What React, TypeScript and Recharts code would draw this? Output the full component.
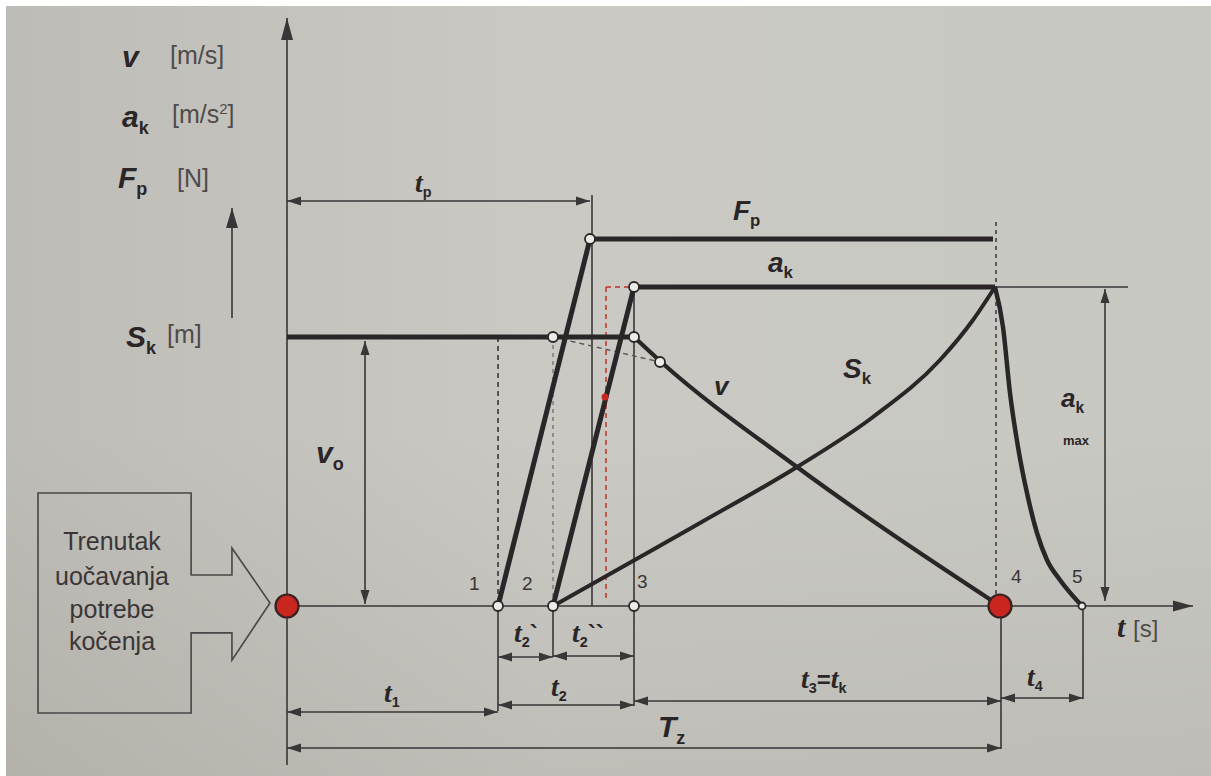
import React from 'react';
import {
  ComposedChart,
  Line,
  Scatter,
  XAxis,
  YAxis,
  ReferenceLine,
  ReferenceDot,
  ReferenceArea,
} from 'recharts';

// ---------- data (time in chart units, magnitudes in chart units) ----------
const fpCurve = [
  { x: 4.22, y: 0 },
  { x: 6.06, y: 7.34 },
  { x: 14.12, y: 7.34 },
];
const akPlateau = [
  { x: 5.32, y: 0 },
  { x: 6.94, y: 6.38 },
  { x: 14.16, y: 6.38 },
];
const akDecay = [
  { x: 14.16, y: 6.38 },
  { x: 14.32, y: 5.58 },
  { x: 14.46, y: 4.26 },
  { x: 14.62, y: 3.18 },
  { x: 14.8, y: 2.26 },
  { x: 15.0, y: 1.46 },
  { x: 15.2, y: 0.92 },
  { x: 15.46, y: 0.52 },
  { x: 15.9, y: 0 },
];
const vConst = [
  { x: 0, y: 5.38 },
  { x: 6.94, y: 5.38 },
];
const vBraking = [
  { x: 6.94, y: 5.38 },
  { x: 7.46, y: 4.9 },
  { x: 10.2, y: 2.78 },
  { x: 14.26, y: 0 },
];
const skCurve = [
  { x: 5.32, y: 0 },
  { x: 7.06, y: 0.98 },
  { x: 8.26, y: 1.66 },
  { x: 10.2, y: 2.78 },
  { x: 11.72, y: 3.78 },
  { x: 13.06, y: 4.92 },
  { x: 13.72, y: 5.72 },
  { x: 14.16, y: 6.38 },
];
const nodePoints = [
  { x: 6.06, y: 7.34 },
  { x: 6.94, y: 6.38 },
  { x: 5.32, y: 5.38 },
  { x: 6.94, y: 5.38 },
  { x: 7.46, y: 4.88 },
  { x: 4.22, y: 0 },
  { x: 5.32, y: 0 },
  { x: 6.94, y: 0 },
];
const endPoint = [{ x: 15.9, y: 0 }];
const eventPoints = [
  { x: 0, y: 0 },
  { x: 14.26, y: 0 },
];
const redMark = [{ x: 6.36, y: 4.18 }];

// ---------- annotation geometry ----------
type Seg = {
  x1: number; y1: number; x2: number; y2: number;
  heads: 'both' | 'end' | 'none';
  dash?: string; color?: string; w?: number; head?: number; hw?: number;
};
const INK = '#2a2628';
const THIN = '#3a3537';
const RED = '#c4302a';

const segments: Seg[] = [
  // axes
  { x1: 0, y1: -3.18, x2: 0, y2: 11.76, heads: 'end', head: 22, hw: 6 },
  { x1: 0, y1: 0, x2: 18.12, y2: 0, heads: 'end', head: 20, hw: 5.5 },
  // legend arrow
  { x1: -1.1, y1: 5.76, x2: -1.1, y2: 7.96, heads: 'end', head: 20, hw: 6 },
  // t_p
  { x1: 0, y1: 8.1, x2: 6.06, y2: 8.1, heads: 'both' },
  { x1: 6.1, y1: 8.22, x2: 6.1, y2: 0, heads: 'none' },
  // v0 and ak max
  { x1: 1.56, y1: 5.3, x2: 1.56, y2: 0.04, heads: 'both' },
  { x1: 16.36, y1: 6.34, x2: 16.36, y2: 0.1, heads: 'both' },
  { x1: 14.16, y1: 6.38, x2: 16.82, y2: 6.38, heads: 'none', w: 1.3 },
  // guides
  { x1: 4.22, y1: 5.38, x2: 4.22, y2: 0, heads: 'none', dash: '5 4', w: 1.6 },
  { x1: 5.32, y1: 5.38, x2: 5.32, y2: 0, heads: 'none', dash: '4 4', w: 1.4, color: '#7a7676' },
  { x1: 14.18, y1: 7.68, x2: 14.18, y2: 0, heads: 'none', dash: '4 4', w: 1.5 },
  { x1: 6.94, y1: 6.38, x2: 6.94, y2: -2.0, heads: 'none' },
  { x1: 6.38, y1: 6.38, x2: 6.38, y2: 0.1, heads: 'none', dash: '5 4', color: RED, w: 1.5 },
  { x1: 6.38, y1: 6.38, x2: 6.9, y2: 6.38, heads: 'none', dash: '5 4', color: RED, w: 1.5 },
  { x1: 5.32, y1: 5.38, x2: 7.46, y2: 4.88, heads: 'none', dash: '5 4', color: '#555', w: 1.4 },
  // extension lines
  { x1: 4.22, y1: 0, x2: 4.22, y2: -2.1, heads: 'none' },
  { x1: 5.32, y1: 0, x2: 5.32, y2: -1.02, heads: 'none' },
  { x1: 14.28, y1: 0, x2: 14.28, y2: -2.86, heads: 'none' },
  { x1: 15.92, y1: 0, x2: 15.92, y2: -1.86, heads: 'none' },
  // time dimensions
  { x1: 4.22, y1: -1.02, x2: 5.32, y2: -1.02, heads: 'both' },
  { x1: 5.32, y1: -1.0, x2: 6.94, y2: -1.0, heads: 'both' },
  { x1: 0, y1: -2.12, x2: 4.22, y2: -2.12, heads: 'both' },
  { x1: 4.22, y1: -1.98, x2: 6.94, y2: -1.98, heads: 'both' },
  { x1: 6.94, y1: -1.9, x2: 14.28, y2: -1.9, heads: 'both' },
  { x1: 14.28, y1: -1.84, x2: 15.92, y2: -1.84, heads: 'both' },
  { x1: 0, y1: -2.84, x2: 14.28, y2: -2.84, heads: 'both' },
];

type Kind = 'b' | 't' | 's' | 'u' | 'p' | 'n' | 'w' | 'x';
type Lbl = { x: number; y: number; fs: number; parts: [string, Kind][]; anchor?: 'start' | 'middle' };

const labels: Lbl[] = [
  // legend on the left
  { x: -3.3, y: 10.78, fs: 30, parts: [['v', 'b']] },
  { x: -2.34, y: 10.84, fs: 25, parts: [['[m/s]', 'u']] },
  { x: -3.3, y: 9.58, fs: 30, parts: [['a', 'b'], ['k', 's']] },
  { x: -2.3, y: 9.66, fs: 25, parts: [['[m/s', 'u'], ['2', 'p'], [']', 'u']] },
  { x: -3.38, y: 8.36, fs: 30, parts: [['F', 'b'], ['p', 's']] },
  { x: -2.2, y: 8.38, fs: 25, parts: [['[N]', 'u']] },
  { x: -3.22, y: 5.18, fs: 30, parts: [['S', 'b'], ['k', 's']] },
  { x: -2.4, y: 5.26, fs: 25, parts: [['[m]', 'u']] },
  // curve labels
  { x: 2.56, y: 8.28, fs: 24, parts: [['t', 't'], ['p', 's']] },
  { x: 8.92, y: 7.72, fs: 28, parts: [['F', 'b'], ['p', 's']] },
  { x: 9.62, y: 6.68, fs: 28, parts: [['a', 'b'], ['k', 's']] },
  { x: 8.54, y: 4.22, fs: 26, parts: [['v', 'b']] },
  { x: 11.12, y: 4.56, fs: 28, parts: [['S', 'b'], ['k', 's']] },
  { x: 0.58, y: 2.86, fs: 30, parts: [['v', 'b'], ['o', 's']] },
  { x: 15.48, y: 3.98, fs: 26, parts: [['a', 'b'], ['k', 's']] },
  { x: 15.52, y: 3.22, fs: 13, parts: [['max', 'w']] },
  { x: 16.6, y: -0.62, fs: 26, parts: [['t', 't']] },
  { x: 16.92, y: -0.62, fs: 24, parts: [['[s]', 'u']] },
  // time labels
  { x: 10.28, y: -1.64, fs: 24, parts: [['t', 't'], ['3', 's'], ['=', 'w'], ['t', 't'], ['k', 's']] },
  { x: 14.8, y: -1.6, fs: 24, parts: [['t', 't'], ['4', 's']] },
  { x: 1.94, y: -1.92, fs: 24, parts: [['t', 't'], ['1', 's']] },
  { x: 5.28, y: -1.8, fs: 24, parts: [['t', 't'], ['2', 's']] },
  { x: 4.54, y: -0.72, fs: 24, parts: [['t', 't'], ['2', 's'], ['`', 'w']] },
  { x: 5.7, y: -0.72, fs: 24, parts: [['t', 't'], ['2', 's'], ['``', 'w']] },
  { x: 7.42, y: -2.62, fs: 30, parts: [['T', 'b'], ['z', 's']] },
  // point numbers
  { x: 3.64, y: 0.32, fs: 19, parts: [['1', 'n']] },
  { x: 4.7, y: 0.32, fs: 19, parts: [['2', 'n']] },
  { x: 7.0, y: 0.36, fs: 19, parts: [['3', 'n']] },
  { x: 14.48, y: 0.46, fs: 19, parts: [['4', 'n']] },
  { x: 15.7, y: 0.46, fs: 19, parts: [['5', 'n']] },
  // box text
  { x: -3.5, y: 1.12, fs: 25, anchor: 'middle', parts: [['Trenutak', 'x']] },
  { x: -3.5, y: 0.42, fs: 25, anchor: 'middle', parts: [['uočavanja', 'x']] },
  { x: -3.5, y: -0.24, fs: 25, anchor: 'middle', parts: [['potrebe', 'x']] },
  { x: -3.5, y: -0.88, fs: 25, anchor: 'middle', parts: [['kočenja', 'x']] },
];

const SANS = '"Liberation Sans", Arial, sans-serif';
const SERIF = '"Liberation Serif", "DejaVu Serif", serif';

const styleFor = (k: Kind, fs: number): React.CSSProperties & { fill?: string } => {
  switch (k) {
    case 'b': return { fontFamily: SANS, fontWeight: 700, fontStyle: 'italic', fontSize: fs, fill: INK };
    case 't': return { fontFamily: SERIF, fontWeight: 700, fontStyle: 'italic', fontSize: fs * 1.15, fill: INK };
    case 's': return { fontFamily: SANS, fontWeight: 700, fontSize: fs * 0.6, fill: INK };
    case 'u': return { fontFamily: SANS, fontWeight: 400, fontSize: fs, fill: '#4f4b4b' };
    case 'p': return { fontFamily: SANS, fontWeight: 400, fontSize: fs * 0.6, fill: '#4f4b4b' };
    case 'n': return { fontFamily: SANS, fontWeight: 400, fontSize: fs, fill: '#3a3636' };
    case 'w': return { fontFamily: SANS, fontWeight: 700, fontSize: fs, fill: INK };
    case 'x': return { fontFamily: SANS, fontWeight: 400, fontSize: fs, fill: '#3a3637' };
  }
};

const textShape = (l: Lbl) => (p: any) => {
  let shift = 0;
  return (
    <text x={p.cx} y={p.cy} textAnchor={l.anchor ?? 'start'}>
      {l.parts.map(([t, k], i) => {
        const target = k === 's' ? l.fs * 0.22 : k === 'p' ? -l.fs * 0.38 : 0;
        const dy = target - shift;
        shift = target;
        const st = styleFor(k, l.fs);
        return (
          <tspan key={i} dy={dy} style={st} fill={st.fill}>
            {t}
          </tspan>
        );
      })}
    </text>
  );
};

const arrowShape = (s: Seg) => (p: any) => {
  const { x1, y1, x2, y2 } = p;
  const color = s.color ?? THIN;
  const L = s.head ?? 14;
  const hw = s.hw ?? 4.5;
  const tri = (tx: number, ty: number, fx: number, fy: number, key: string) => {
    const a = Math.atan2(ty - fy, tx - fx);
    const bx = tx - L * Math.cos(a);
    const by = ty - L * Math.sin(a);
    const nx = -Math.sin(a) * hw;
    const ny = Math.cos(a) * hw;
    return <polygon key={key} points={`${tx},${ty} ${bx + nx},${by + ny} ${bx - nx},${by - ny}`} fill={color} />;
  };
  return (
    <g>
      <line x1={x1} y1={y1} x2={x2} y2={y2} stroke={color} strokeWidth={s.w ?? 1.6} strokeDasharray={s.dash} />
      {s.heads !== 'none' && tri(x2, y2, x1, y1, 'e')}
      {s.heads === 'both' && tri(x1, y1, x2, y2, 's')}
    </g>
  );
};

const boxArrowShape = (p: any) => {
  const { x, y, width: w, height: h } = p;
  const bx = x + w * 0.66;
  const hx = x + w * 0.836;
  const pts = [
    [x, y],
    [bx, y],
    [bx, y + h * 0.373],
    [hx, y + h * 0.373],
    [hx, y + h * 0.25],
    [x + w, y + h * 0.5],
    [hx, y + h * 0.76],
    [hx, y + h * 0.636],
    [bx, y + h * 0.636],
    [bx, y + h],
    [x, y + h],
  ];
  return (
    <polygon
      points={pts.map((q) => q.join(',')).join(' ')}
      fill="none"
      stroke="#4a4547"
      strokeWidth={1.6}
      strokeLinejoin="miter"
    />
  );
};

const openCircle = (r: number) => (p: any) => (
  <circle cx={p.cx} cy={p.cy} r={r} fill="#ecebe7" stroke={INK} strokeWidth={1.8} />
);
const redCircle = (p: any) => (
  <circle cx={p.cx} cy={p.cy} r={11.5} fill="#c8261f" stroke="#3a2222" strokeWidth={2.2} />
);
const redSmall = (p: any) => <circle cx={p.cx} cy={p.cy} r={3.5} fill="#c8261f" />;

export default function App() {
  return (
    <div style={{ position: 'absolute', left: 0, top: 0, width: 1211, height: 776, background: '#ffffff', overflow: 'hidden' }}>
      <div
        style={{
          position: 'absolute',
          left: 6,
          top: 6,
          right: 0,
          bottom: 0,
          background:
            'linear-gradient(to bottom, rgba(0,0,0,0) 55%, rgba(50,40,30,0.07) 100%), linear-gradient(to right, #bebcb6 0%, #cac9c3 45%, #c8c8c2 100%)',
        }}
      />
      <div style={{ position: 'absolute', left: 0, top: 0 }}>
        <ComposedChart width={1211} height={776} margin={{ top: 0, right: 0, bottom: 0, left: 0 }}>
          <XAxis type="number" dataKey="x" domain={[-5.74, 18.48]} allowDataOverflow hide />
          <YAxis type="number" dataKey="y" domain={[-3.4, 12.12]} allowDataOverflow hide />

          <ReferenceArea x1={-4.98} x2={-0.34} y1={-2.14} y2={2.26} shape={boxArrowShape} ifOverflow="visible" />

          {segments.map((s, i) => (
            <ReferenceLine
              key={`s${i}`}
              segment={[{ x: s.x1, y: s.y1 }, { x: s.x2, y: s.y2 }]}
              shape={arrowShape(s)}
              ifOverflow="visible"
            />
          ))}

          <Line data={fpCurve} dataKey="y" type="linear" stroke={INK} strokeWidth={5} dot={false} activeDot={false} isAnimationActive={false} strokeLinejoin="miter" />
          <Line data={akPlateau} dataKey="y" type="linear" stroke={INK} strokeWidth={5} dot={false} activeDot={false} isAnimationActive={false} strokeLinejoin="miter" />
          <Line data={akDecay} dataKey="y" type="monotone" stroke={INK} strokeWidth={4.5} dot={false} activeDot={false} isAnimationActive={false} />
          <Line data={vConst} dataKey="y" type="linear" stroke={INK} strokeWidth={5} dot={false} activeDot={false} isAnimationActive={false} />
          <Line data={vBraking} dataKey="y" type="monotone" stroke={INK} strokeWidth={4.2} dot={false} activeDot={false} isAnimationActive={false} />
          <Line data={skCurve} dataKey="y" type="monotone" stroke={INK} strokeWidth={4} dot={false} activeDot={false} isAnimationActive={false} />

          <Scatter data={redMark} dataKey="y" shape={redSmall} isAnimationActive={false} />
          <Scatter data={nodePoints} dataKey="y" shape={openCircle(5)} isAnimationActive={false} />
          <Scatter data={endPoint} dataKey="y" shape={openCircle(3.5)} isAnimationActive={false} />
          <Scatter data={eventPoints} dataKey="y" shape={redCircle} isAnimationActive={false} />

          {labels.map((l, i) => (
            <ReferenceDot key={`l${i}`} x={l.x} y={l.y} r={0} shape={textShape(l)} ifOverflow="visible" />
          ))}
        </ComposedChart>
      </div>
    </div>
  );
}
